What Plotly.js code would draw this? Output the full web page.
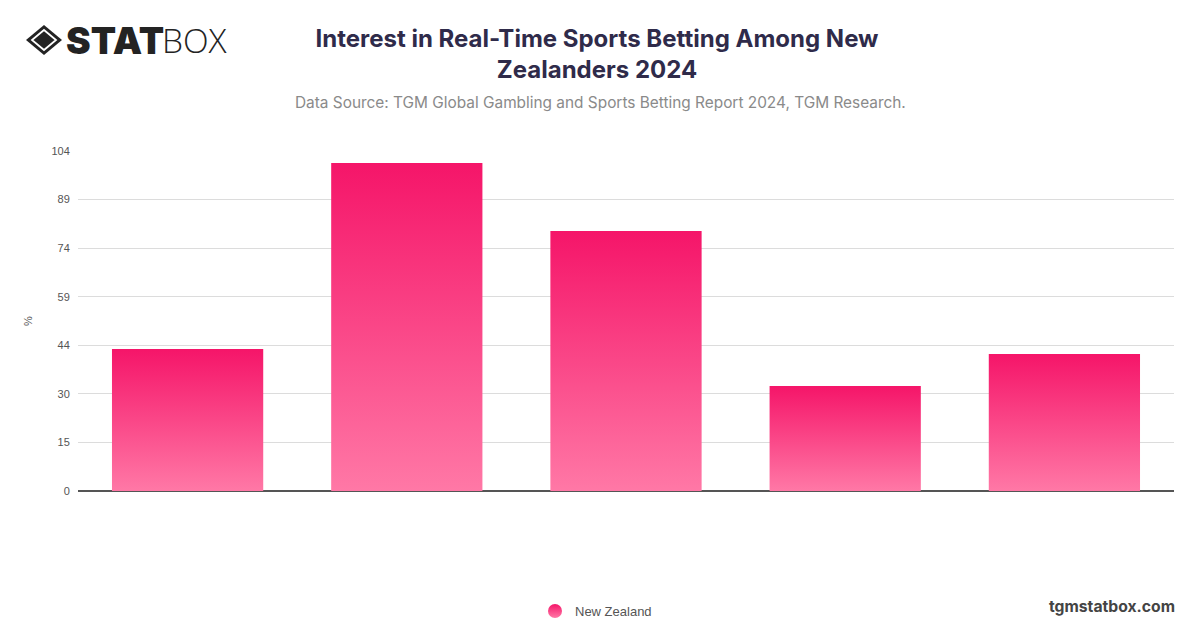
<!DOCTYPE html>
<html>
<head>
<meta charset="utf-8">
<script src="https://cdn.plot.ly/plotly-3.0.1.min.js"></script>
<style>html,body{margin:0;padding:0;background:#fff}#chart{width:1200px;height:628px}</style>
</head>
<body>
<div id="chart"></div>
<script>
const categories = ["1", "2", "3", "4", "5"];
const seriesName = "New Zealand";
const values = [43.4, 100.3, 79.5, 32.1, 41.9];
const tickValues = [0, 14.857, 29.714, 44.571, 59.429, 74.286, 89.143, 104];
const tickLabels = ["0", "15", "30", "44", "59", "74", "89", "104"];
const titleText = "Interest in Real-Time Sports Betting Among New<br>Zealanders 2024";
const subtitleText = "Data Source: TGM Global Gambling and Sports Betting Report 2024, TGM Research.";
const siteText = "tgmstatbox.com";

const W = 1200, H = 628, M = {l: 78, r: 26, t: 151, b: 137};
const px = x => (x - M.l) / (W - M.l - M.r);
const py = y => 1 - (y - M.t) / (H - M.t - M.b);
const note = (text, x, y, anchor, font) => ({
  text, x: px(x), y: py(y), xref: 'paper', yref: 'paper', xanchor: anchor, yanchor: 'middle',
  showarrow: false, font, borderpad: 0
});

const logoSvg = "<svg xmlns='http://www.w3.org/2000/svg' viewBox='0 0 36 30' preserveAspectRatio='none'>" +
  "<path d='M18 0 L36 15 L18 30 L0 15 Z' fill='#232323'/>" +
  "<path d='M18 5 L30 15 L18 25 L6 15 Z' fill='#232323' stroke='#fff' stroke-width='1.8'/></svg>";

const layout = {
  width: W, height: H, autosize: false,
  paper_bgcolor: '#fff', plot_bgcolor: '#fff',
  margin: M,
  bargap: 0.31,
  showlegend: true,
  title: {
    text: titleText, x: 597 / W, xanchor: 'center', xref: 'container', y: 1 - 47 / H, yanchor: 'middle', yref: 'container',
    font: {family: 'Inter, sans-serif', size: 24, color: '#2f2b4a', weight: 700}
  },
  legend: {
    orientation: 'h', xref: 'container', yref: 'container', x: 596 / W, xanchor: 'center', y: 1 - 611 / H, yanchor: 'middle',
    font: {family: '"Liberation Sans", sans-serif', size: 13, color: '#555'},
    itemclick: false, itemdoubleclick: false
  },
  xaxis: {
    type: 'category', showticklabels: false, ticks: '', showgrid: false, zeroline: false,
    showline: false, fixedrange: true
  },
  yaxis: {
    title: {text: '%', font: {family: '"Liberation Sans", sans-serif', size: 11, color: '#555'}, standoff: 16},
    range: [0, 104], tickmode: 'array', tickvals: tickValues, ticktext: tickLabels,
    tickfont: {family: '"Liberation Sans", sans-serif', size: 11, color: '#555'},
    ticks: 'outside', ticklen: 5, tickcolor: 'rgba(0,0,0,0)',
    gridcolor: '#dcdcdc', gridwidth: 1, zeroline: true, zerolinecolor: '#555', zerolinewidth: 1.3,
    showline: false, fixedrange: true
  },
  images: [{
    source: 'data:image/svg+xml;utf8,' + encodeURIComponent(logoSvg),
    xref: 'paper', yref: 'paper', x: px(26), y: py(25), sizex: 36 / (W - M.l - M.r), sizey: 30 / (H - M.t - M.b),
    xanchor: 'left', yanchor: 'top', sizing: 'stretch', layer: 'above'
  }],
  annotations: [
    note('STAT', 65, 40, 'left', {family: 'Inter, sans-serif', size: 37, color: '#232323', weight: 900}),
    note('BOX', 161, 40, 'left', {family: '"Open Sans", sans-serif', size: 33.5, color: '#232323', weight: 300}),
    note(subtitleText, 600, 102, 'center', {family: 'Inter, sans-serif', size: 15.4, color: '#8a8a8a'}),
    note(siteText, 1176, 606, 'right', {family: 'Inter, sans-serif', size: 15.7, color: '#444', weight: 700})
  ]
};

const traces = [{
  type: 'bar', x: categories, y: values, name: seriesName,
  marker: {color: '#f8256f'}, hoverinfo: 'y'
}];

Plotly.newPlot('chart', traces, layout, {displayModeBar: false, staticPlot: true}).then(gd => {
  const svg = gd.querySelector('.main-svg');
  const ns = 'http://www.w3.org/2000/svg';
  const defs = svg.querySelector('defs') || svg.insertBefore(document.createElementNS(ns, 'defs'), svg.firstChild);
  const grad = document.createElementNS(ns, 'linearGradient');
  grad.setAttribute('id', 'barGrad');
  grad.setAttribute('x1', '0'); grad.setAttribute('y1', '0');
  grad.setAttribute('x2', '0'); grad.setAttribute('y2', '1');
  [['0', '#f51569'], ['1', '#ff78a6']].forEach(([o, c]) => {
    const s = document.createElementNS(ns, 'stop');
    s.setAttribute('offset', o); s.setAttribute('stop-color', c);
    grad.appendChild(s);
  });
  defs.appendChild(grad);
  gd.querySelectorAll('.bars .point path').forEach(p => { p.style.fill = 'url(#barGrad)'; });
  gd.querySelectorAll('.legend .legendpoints path').forEach(p => {
    p.setAttribute('d', 'M7,0A7,7 0 1,1 -7,0A7,7 0 1,1 7,0Z');
    p.style.fill = 'url(#barGrad)';
  });
});
</script>
</body>
</html>
